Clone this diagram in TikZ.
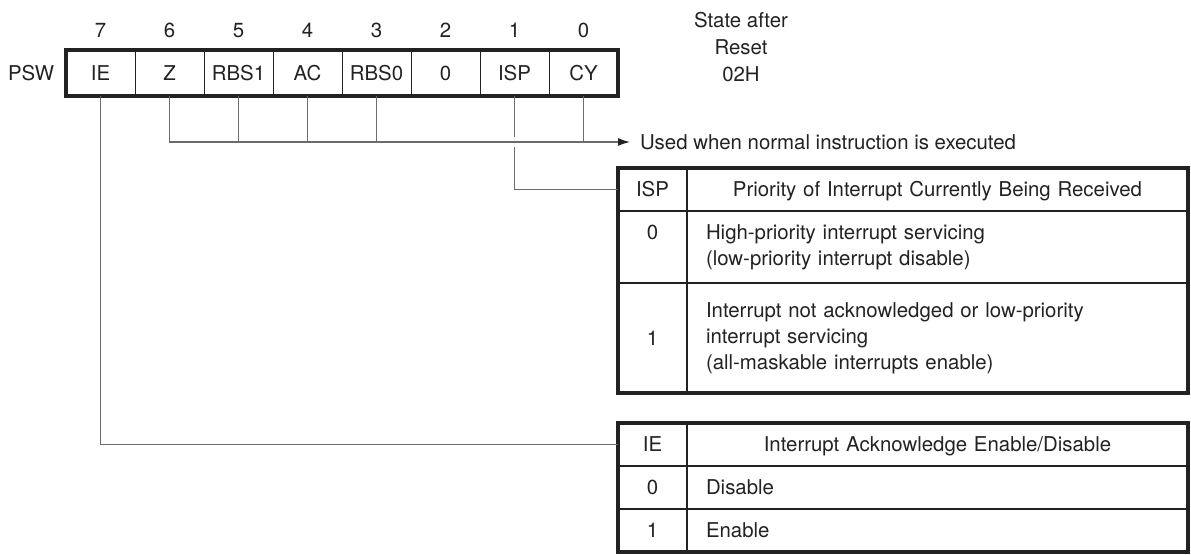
\documentclass[tikz,border=0pt]{standalone}
\usepackage{fontspec}
\setmainfont{TeX Gyre Heros}
\usetikzlibrary{arrows.meta,positioning}
\definecolor{cink}{HTML}{222222}
\definecolor{cwire}{HTML}{6B6B6B}

\begin{document}
\begin{tikzpicture}[x=0.5pt, y=-0.5pt,
    every node/.style={inner sep=0pt, outer sep=0pt, text=cink, font=\fontsize{10.2}{13}\selectfont},
    ln/.style={text height=7.3pt, text depth=0pt},
    bitcell/.style={ln, draw=cink, line width=0.5pt, minimum width=34.5pt, minimum height=23pt},
    frame/.style={draw=cink, line width=1.6pt},
    wire/.style={cwire, line width=0.65pt},
    keycell/.style={ln, draw=cink, line width=0.75pt, minimum width=34.5pt, anchor=north west},
    desccell/.style={draw=cink, line width=0.75pt, text width=231.5pt, inner xsep=9.5pt, align=left, anchor=north west},
    headcell/.style={desccell, ln, align=center}]
  \useasboundingbox (0,0) rectangle (1191,554);

  % register and bit numbers
  \foreach \lab [count=\i from 0] in {IE,Z,RBS1,AC,RBS0,0,ISP,CY} {
    \pgfmathtruncatemacro{\bit}{7-\i}
    \node[bitcell] (b\bit) at ({100.5+69*\i},73) {\lab};
    \node[ln] (n\bit) at ({100.5+69*\i},30) {\bit};
  }
  \draw[frame] (b7.north west) rectangle (b0.south east);
  \node[ln, left=6pt of b7] (psw) {PSW};
  \node[align=center, anchor=north, font=\fontsize{10.2}{13.5}\selectfont] (reset) at (741,12) {State after\\Reset\\02H};

  % ISP table
  \node[keycell, minimum height=21.5pt] (isphk) at (618,168) {ISP};
  \node[headcell, minimum height=21.5pt] (isphd) at (isphk.north east) {Priority of Interrupt Currently Being Received};
  \node[keycell, minimum height=36pt] (isp0k) at (isphk.south west) {};
  \node[ln] (isp0v) at ([yshift=-10.5pt]isp0k.north) {0};
  \node[desccell, minimum height=36pt] (isp0d) at (isp0k.north east) {High-priority interrupt servicing\\(low-priority interrupt disable)};
  \node[keycell, minimum height=55pt] (isp1k) at (isp0k.south west) {1};
  \node[desccell, minimum height=55pt] (isp1d) at (isp1k.north east) {Interrupt not acknowledged or low-priority\\interrupt servicing\\(all-maskable interrupts enable)};
  \draw[frame] (isphk.north west) rectangle (isp1d.south east);

  % IE table
  \node[keycell, minimum height=21.5pt] (iehk) at (618,423) {IE};
  \node[headcell, minimum height=21.5pt] (iehd) at (iehk.north east) {Interrupt Acknowledge Enable/Disable};
  \node[keycell, minimum height=21.5pt] (ie0k) at (iehk.south west) {0};
  \node[desccell, ln, minimum height=21.5pt] (ie0d) at (ie0k.north east) {Disable};
  \node[keycell, minimum height=21.5pt] (ie1k) at (ie0k.south west) {1};
  \node[desccell, ln, minimum height=21.5pt] (ie1d) at (ie1k.north east) {Enable};
  \draw[frame] (iehk.north west) rectangle (ie1d.south east);

  % wires
  \node[ln, anchor=west] (used) at (640,142) {Used when normal instruction is executed};
  \draw[wire, -{Latex[length=6pt, width=4pt, color=cink]}, shorten >=5pt] (b6.south) |- (used.west);
  \foreach \bit in {5,4,3,0}
    \draw[wire] (b\bit.south) -- (b\bit.south |- used.west);
  \coordinate (cross) at (b1.south |- used.west);
  \draw[wire] (b1.south) -- ([yshift=2.5pt]cross);
  \draw[wire] ([yshift=-2.5pt]cross) |- (isphk.west);
  \draw[wire] (b7.south) |- (iehk.west);
\end{tikzpicture}
\end{document}
